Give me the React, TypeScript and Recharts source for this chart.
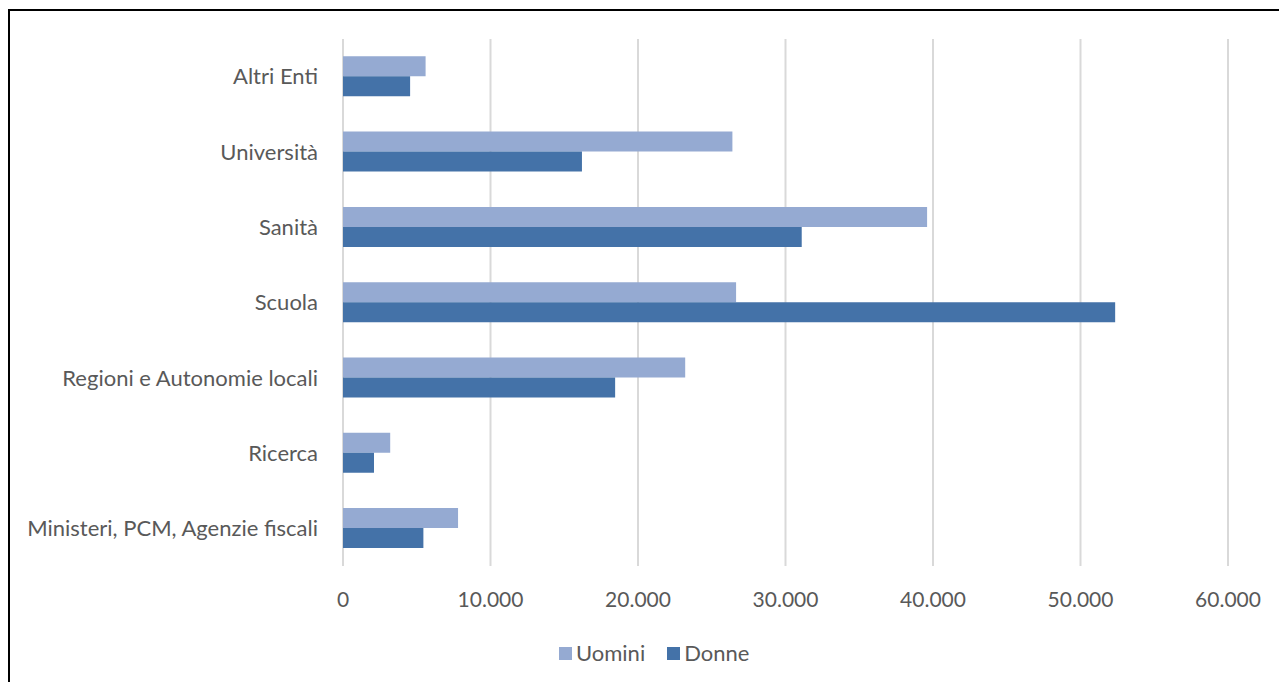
import { Bar, BarChart, CartesianGrid, XAxis, YAxis } from 'recharts';

// categories from top to bottom, as in the reference
const categories = [
  'Altri Enti',
  'Università',
  'Sanità',
  'Scuola',
  'Regioni e Autonomie locali',
  'Ricerca',
  'Ministeri, PCM, Agenzie fiscali',
];
const uomini = [5600, 26400, 39600, 26650, 23200, 3200, 7800];
const donne = [4550, 16200, 31100, 52350, 18450, 2100, 5450];
const xTicks = [0, 10000, 20000, 30000, 40000, 50000, 60000];

const data = categories.map((name, i) => ({ name, uomini: uomini[i], donne: donne[i] }));

const FONT = 'Lato, "Noto Sans", sans-serif';
const TEXT = '#595959';
const C_UOMINI = '#95AAD2';
const C_DONNE = '#4472A8';

const fmt = (v: number) => String(v).replace(/\B(?=(\d{3})+(?!\d))/g, '.');

// legend sits under the axis, drawn as plain html
function ChartLegend() {
  const item = (label: string, color: string, gap: number) => (
    <div style={{ display: 'flex', alignItems: 'center', marginRight: gap }}>
      <span style={{ width: 13, height: 13, background: color, marginRight: 4 }} />
      <span>{label}</span>
    </div>
  );
  return (
    <div
      style={{
        position: 'absolute',
        left: 559,
        top: 640,
        display: 'flex',
        alignItems: 'center',
        fontFamily: FONT,
        fontSize: 22,
        color: TEXT,
        lineHeight: '26px',
      }}
    >
      {item('Uomini', C_UOMINI, 22)}
      {item('Donne', C_DONNE, 0)}
    </div>
  );
}

export default function App() {
  return (
    <div style={{ position: 'absolute', left: 0, top: 0, width: 1279, height: 682, overflow: 'hidden', background: '#fff' }}>
      <div
        style={{
          position: 'absolute',
          left: 8,
          top: 9,
          width: 1300,
          height: 700,
          border: '2px solid #000',
          boxSizing: 'border-box',
        }}
      />
      <div style={{ position: 'absolute', left: 0, top: 0 }}>
        <BarChart
          width={1279}
          height={682}
          data={data}
          layout="vertical"
          margin={{ top: 39, right: 51, left: 0, bottom: 76 }}
          barCategoryGap="23%"
          barGap={0}
        >
          <CartesianGrid horizontal={false} stroke="#D9D9D9" strokeWidth={2} />
          <XAxis
            type="number"
            domain={[0, 60000]}
            ticks={xTicks}
            tickFormatter={fmt}
            axisLine={false}
            tickLine={false}
            tickSize={0}
            tickMargin={26}
            height={40}
            tick={{ fill: TEXT, fontSize: 21, fontFamily: FONT }}
          />
          <YAxis
            type="category"
            dataKey="name"
            width={343}
            axisLine={false}
            tickLine={false}
            tickSize={0}
            tickMargin={25}
            tick={{ fill: TEXT, fontSize: 22, fontFamily: FONT }}
          />
          <Bar dataKey="uomini" name="Uomini" fill={C_UOMINI} isAnimationActive={false} />
          <Bar dataKey="donne" name="Donne" fill={C_DONNE} isAnimationActive={false} />
        </BarChart>
      </div>
      <ChartLegend />
    </div>
  );
}
